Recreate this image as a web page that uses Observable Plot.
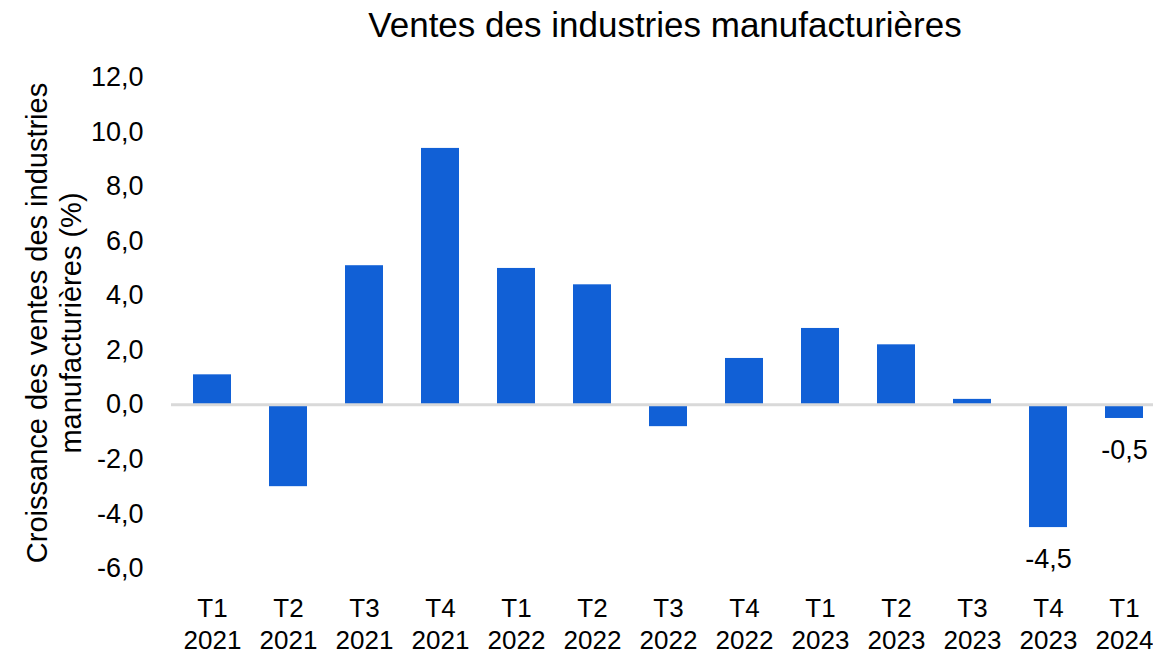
<!DOCTYPE html>
<html>
<head>
<meta charset="utf-8">
<script src="https://cdn.jsdelivr.net/npm/d3@7"></script>
<script src="https://cdn.jsdelivr.net/npm/@observablehq/plot@0.6"></script>
<style>
  html, body { margin: 0; padding: 0; background: #fff; overflow: hidden; }
  #title { width: 1153px; box-sizing: border-box; padding-left: 177px; height: 50px; line-height: 50px;
    text-align: center; font-family: "Liberation Sans", Arial, sans-serif; font-size: 35px; color: #000; }
</style>
</head>
<body>
<div id="title">Ventes des industries manufacturières</div>
<div id="chart"></div>
<script>
const quarters = ["T1","T2","T3","T4","T1","T2","T3","T4","T1","T2","T3","T4","T1"];
const years = ["2021","2021","2021","2021","2022","2022","2022","2022","2023","2023","2023","2023","2024"];
const values = [1.1, -3.0, 5.1, 9.4, 5.0, 4.4, -0.8, 1.7, 2.8, 2.2, 0.2, -4.5, -0.5];
const labelled = [false, false, false, false, false, false, false, false, false, false, false, true, true];
const yTicks = [-6, -4, -2, 0, 2, 4, 6, 8, 10, 12];

const data = quarters.map((q, i) => ({key: q + "\n" + years[i], value: values[i], label: labelled[i]}));
const fmt = v => d3.format(".1f")(v).replace(".", ",").replace("−", "-");

const chart = Plot.plot({
  width: 1153,
  height: 605,
  marginLeft: 171,
  marginRight: -12,
  marginTop: 27,
  marginBottom: 87,
  style: {fontFamily: "'Liberation Sans', Arial, sans-serif", fontSize: "27px", color: "#000", background: "#fff"},
  x: {domain: data.map(d => d.key), paddingInner: 0.5, paddingOuter: 0.25, label: null},
  y: {domain: [-6, 12], label: null},
  marks: [
    Plot.barY(data, {x: "key", y: "value", fill: "#1160d6"}),
    Plot.ruleY([0], {stroke: "#d9d9d9", strokeWidth: 3}),
    Plot.axisY({ticks: yTicks, tickSize: 0, tickPadding: 28, tickFormat: fmt, label: null, fontSize: 27}),
    Plot.axisX({tickSize: 0, tickPadding: 26, lineHeight: 1.22, label: null, fontSize: 26}),
    Plot.text(data.filter(d => d.label), {x: "key", y: "value", text: d => fmt(d.value), dy: 32, fontSize: 27, fill: "#000"}),
    Plot.text(["Croissance des ventes des industries\nmanufacturières (%)"], {
      frameAnchor: "left", rotate: -90, dx: -118, lineHeight: 1.17, fontSize: 29, fill: "#000", textAnchor: "middle"
    })
  ]
});
document.getElementById("chart").appendChild(chart);
</script>
</body>
</html>
